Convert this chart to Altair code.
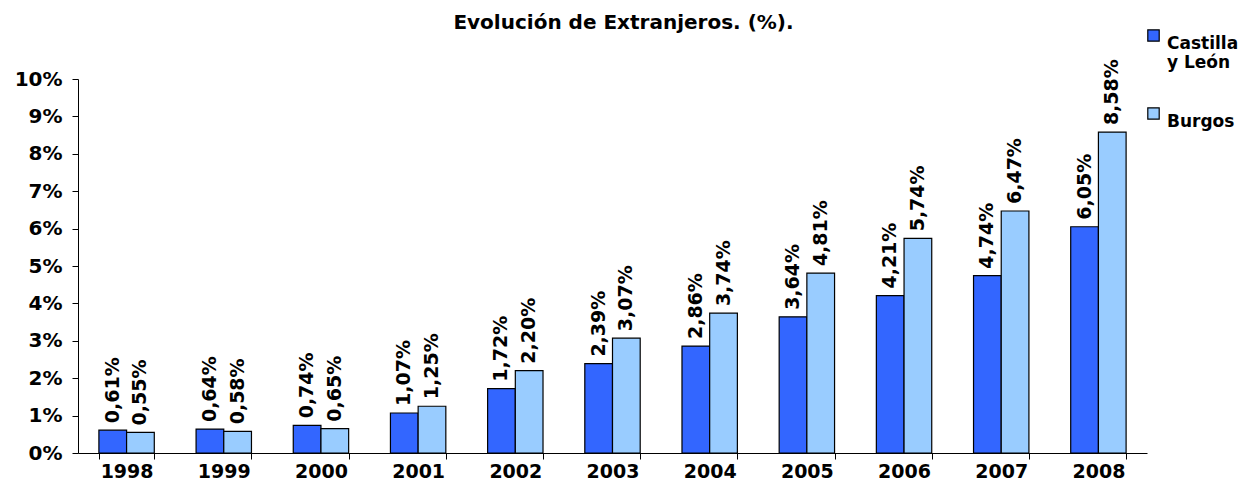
import altair as alt
import pandas as pd

years = ["1998", "1999", "2000", "2001", "2002", "2003", "2004", "2005", "2006", "2007", "2008"]
castilla = [0.61, 0.64, 0.74, 1.07, 1.72, 2.39, 2.86, 3.64, 4.21, 4.74, 6.05]
burgos = [0.55, 0.58, 0.65, 1.25, 2.20, 3.07, 3.74, 4.81, 5.74, 6.47, 8.58]
y_ticks = [0, 1, 2, 3, 4, 5, 6, 7, 8, 9, 10]
series = ["Castilla y León", "Burgos"]
colors = ["#3366FF", "#99CCFF"]

rows = []
for i, y in enumerate(years):
    rows.append({"year": y, "serie": series[0], "value": castilla[i]})
    rows.append({"year": y, "serie": series[1], "value": burgos[i]})
df = pd.DataFrame(rows)

FONT = "DejaVu Sans"

x = alt.X("year:N", sort=years, title=None,
          scale=alt.Scale(paddingInner=0.43, paddingOuter=0.215),
          axis=alt.Axis(labelAngle=0, tickBand="extent", labelFont=FONT, labelFontSize=19,
                        labelFontWeight="bold", labelColor="black", domainColor="black",
                        tickColor="black", tickSize=6, labelPadding=3))
xoff = alt.XOffset("serie:N", sort=series, scale=alt.Scale(paddingInner=0, paddingOuter=0))
y = alt.Y("value:Q", title=None,
          scale=alt.Scale(domain=[0, 10], nice=False, zero=True),
          axis=alt.Axis(values=y_ticks, tickCount=11, labelExpr="datum.value + '%'", grid=False,
                        labelOverlap=False,
                        labelFont=FONT, labelFontSize=20, labelFontWeight="bold", labelColor="black",
                        domainColor="black", tickColor="black", tickSize=6, labelPadding=10))

bars = alt.Chart(df).mark_bar(stroke="black", strokeWidth=1.2).encode(
    x=x, xOffset=xoff, y=y,
    color=alt.Color("serie:N", sort=series, title=None,
                    scale=alt.Scale(domain=series, range=colors),
                    legend=alt.Legend(orient="none", legendX=1067, legendY=-52,
                                      symbolType="square", symbolSize=130, symbolStrokeColor="black",
                                      symbolStrokeWidth=1.2, labelFont=FONT, labelFontSize=17,
                                      labelFontWeight="bold", labelColor="black", labelLimit=300,
                                      rowPadding=34, labelBaseline="top", labelOffset=5,
                                      labelExpr="datum.label == 'Castilla y León' ? ['Castilla', 'y León'] : datum.label")),
)

labels = alt.Chart(df).transform_calculate(
    txt="replace(format(datum.value, '.2f'), '.', ',') + '%'"
).mark_text(angle=270, align="left", baseline="middle", dx=7, font=FONT, fontSize=19,
            fontWeight="bold", color="black").encode(
    x=x, xOffset=xoff, y=y,
    text="txt:N",
)

chart = (bars + labels).properties(
    width=1069, height=374,
    title=alt.TitleParams("Evolución de Extranjeros. (%).", font=FONT, fontSize=20, fontWeight="bold",
                          color="black", anchor="middle", frame="group", dx=11, offset=0, dy=6),
    autosize=alt.AutoSizeParams(type="none"),
    padding={"left": 70, "top": 71, "right": 92, "bottom": 27},
).configure_view(stroke=None)

chart.save("out.html", embed_options={"renderer": "svg", "actions": False})
